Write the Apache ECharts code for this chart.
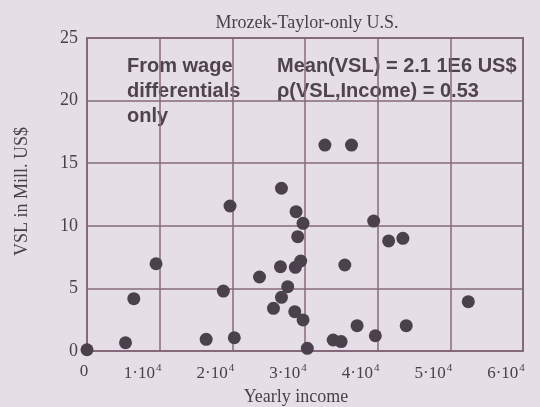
<!DOCTYPE html>
<html>
<head>
<meta charset="utf-8">
<script src="https://cdn.jsdelivr.net/npm/echarts@6/dist/echarts.min.js"></script>
<style>
html,body{margin:0;padding:0;background:#e5dee6;}
#chart{width:540px;height:407px;}
</style>
</head>
<body>
<div id="chart"></div>
<script>
var titleText = 'Mrozek-Taylor-only U.S.';
var xAxisName = 'Yearly income';
var yAxisName = 'VSL in Mill. US$';
var noteLeft = 'From wage\ndifferentials\nonly';
var noteRight = 'Mean(VSL) = 2.1 1E6 US$\nρ(VSL,Income) = 0.53';

var income = [0, 5300, 6440, 9500, 16400, 18770, 19680, 20270, 23740, 25660, 26620, 26760, 26760, 27620, 28670, 29410, 28770, 29730, 29000, 28590, 29730, 30320, 32740, 36400, 33880, 34970, 35480, 37170, 39450, 39680, 41510, 43470, 43930, 52470];
var vsl = [0.1, 0.66, 4.18, 6.97, 0.93, 4.79, 11.58, 1.06, 5.91, 3.41, 6.73, 13.0, 4.29, 5.14, 6.68, 7.19, 11.13, 10.2, 9.13, 3.14, 2.48, 0.21, 16.45, 16.45, 0.88, 0.75, 6.87, 2.02, 10.38, 1.22, 8.79, 9.0, 2.02, 3.94];

var points = income.map(function (x, i) { return [x, vsl[i]]; });

var ink = '#4a3f49';
var lineCol = '#846a7c';

var chart = echarts.init(document.getElementById('chart'));
chart.setOption({
  backgroundColor: '#e5dee6',
  animation: false,
  title: {
    text: titleText,
    left: 302, top: 9, textAlign: 'center',
    textStyle: {fontFamily: 'Liberation Serif', fontWeight: 'normal', fontSize: 18, color: ink}
  },
  grid: {left: 87, right: 17, top: 38, bottom: 56, containLabel: false, outerBoundsMode: 'none', show: true, borderColor: lineCol, borderWidth: 2, backgroundColor: 'transparent'},
  xAxis: {
    type: 'value', min: 0, max: 60000, interval: 10000,
    name: xAxisName, nameLocation: 'middle', nameGap: 37,
    nameTextStyle: {fontFamily: 'Liberation Serif', fontSize: 18, color: ink, padding: [0, 18, 0, 0]},
    axisLine: {show: false}, axisTick: {show: false},
    splitLine: {show: true, lineStyle: {color: lineCol, width: 1.5}},
    axisLabel: {
      margin: 12, color: ink, fontFamily: 'Liberation Serif', fontSize: 17,
      formatter: function (v) {
        if (v === 0) return '{a|0}{z| }';
        return '{a|' + (v / 10000) + '·10}{s|4}{sp| }';
      },
      rich: {
        a: {fontFamily: 'Liberation Serif', fontSize: 17, color: ink},
        s: {fontFamily: 'Liberation Serif', fontSize: 11, color: ink, padding: [0, 0, 10, 1]},
        sp: {fontSize: 10, width: 34},
        z: {fontSize: 10, width: 6}
      }
    }
  },
  yAxis: {
    type: 'value', min: 0, max: 25, interval: 5,
    name: yAxisName, nameLocation: 'middle', nameGap: 56,
    nameTextStyle: {fontFamily: 'Liberation Serif', fontSize: 18, color: ink, padding: [0, 0, 0, 6]},
    axisLine: {show: false}, axisTick: {show: false},
    splitLine: {show: true, lineStyle: {color: lineCol, width: 1.5}},
    axisLabel: {margin: 9, color: ink, fontFamily: 'Liberation Serif', fontSize: 18}
  },
  graphic: [
    {type: 'text', left: 127, top: 54, style: {text: noteLeft, fontFamily: 'Liberation Sans', fontWeight: 'bold', fontSize: 20, lineHeight: 25, fill: '#4e434e'}},
    {type: 'text', left: 277, top: 54, style: {text: noteRight, fontFamily: 'Liberation Sans', fontWeight: 'bold', fontSize: 20, lineHeight: 25, fill: '#4e434e'}}
  ],
  series: [{
    type: 'scatter', data: points, symbolSize: 13,
    itemStyle: {color: '#4b414c', opacity: 1}
  }]
});
</script>
</body>
</html>
